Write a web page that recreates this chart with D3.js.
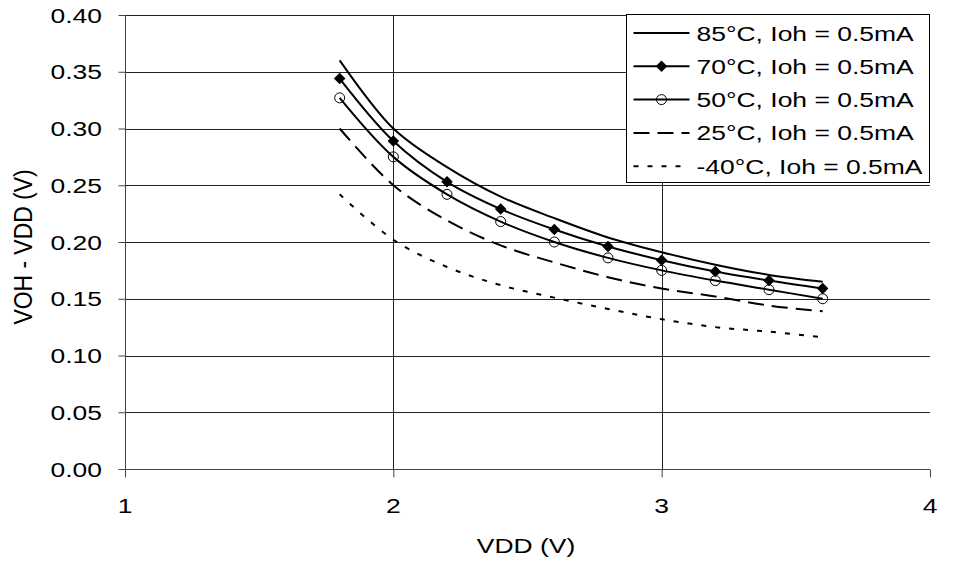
<!DOCTYPE html>
<html>
<head>
  <meta charset="UTF-8" />
  <script src="https://d3js.org/d3.v7.min.js"></script>
  <style>
    body { margin: 0; background: #fff; }
    svg { display: block; font-family: 'Liberation Sans', Arial, sans-serif; }
  </style>
</head>
<body>
  <svg id="chart" width="960" height="562"></svg>
  <script>
    // VDD sample points (V)
    const vdd = [1.8, 2.0, 2.2, 2.4, 2.6, 2.8, 3.0, 3.2, 3.4, 3.6];

    // VOH - VDD (V) per temperature, Ioh = 0.5mA
    const t85  = [0.360, 0.300, 0.266, 0.240, 0.221, 0.204, 0.191, 0.180, 0.171, 0.165];
    const t70  = [0.344, 0.289, 0.253, 0.229, 0.211, 0.196, 0.184, 0.174, 0.166, 0.159];
    const t50  = [0.327, 0.275, 0.242, 0.218, 0.200, 0.186, 0.175, 0.166, 0.158, 0.150];
    const t25  = [0.300, 0.250, 0.219, 0.197, 0.182, 0.169, 0.159, 0.152, 0.144, 0.139];
    const tm40 = [0.242, 0.202, 0.178, 0.162, 0.151, 0.141, 0.132, 0.125, 0.121, 0.116];

    const seriesNames = ["85°C, Ioh = 0.5mA", "70°C, Ioh = 0.5mA", "50°C, Ioh = 0.5mA",
                         "25°C, Ioh = 0.5mA", "-40°C, Ioh = 0.5mA"];
    const xTicks = [1, 2, 3, 4];
    const yTicks = [0, 0.05, 0.10, 0.15, 0.20, 0.25, 0.30, 0.35, 0.40];

    // style per series: dash pattern and marker type
    const styles = [
      { dash: null, marker: null },
      { dash: null, marker: "diamond" },
      { dash: null, marker: "circle" },
      { dash: "16,8", marker: null },
      { dash: "5,9", marker: null }
    ];
    const series = [t85, t70, t50, t25, tm40].map((vals, i) => ({
      name: seriesNames[i],
      points: vals.map((v, j) => ({ x: vdd[j], y: v })),
      ...styles[i]
    }));

    const svg = d3.select("#chart");
    const pl = 125, pr = 930, pt = 15, pb = 469;
    const FS = 21, SX = 1.26;   // the original picture is stretched sideways

    const x = d3.scaleLinear().domain([1, 4]).range([pl, pr]);
    const y = d3.scaleLinear().domain([0, 0.40]).range([pb, pt]);

    // text drawn with the sideways stretch
    function label(g, tx, ty, str, anchor, rot) {
      const tr = rot ? `translate(${tx},${ty}) rotate(-90) scale(1.09,1.2)`
                     : `translate(${tx},${ty}) scale(${SX},1)`;
      return g.append("text")
        .attr("transform", tr)
        .attr("text-anchor", anchor || "start")
        .attr("font-size", FS).attr("fill", "#000")
        .text(str);
    }

    // grid lines
    const grid = svg.append("g").attr("stroke", "#222").attr("stroke-width", 1);
    grid.selectAll("line.h").data(yTicks.filter(d => d > 0)).join("line")
      .attr("class", "h")
      .attr("x1", pl).attr("x2", pr)
      .attr("y1", d => Math.round(y(d)) + 0.5).attr("y2", d => Math.round(y(d)) + 0.5);
    grid.selectAll("line.v").data([2, 3]).join("line")
      .attr("class", "v")
      .attr("y1", pt).attr("y2", pb)
      .attr("x1", d => Math.round(x(d)) + 0.5).attr("x2", d => Math.round(x(d)) + 0.5);

    // axes (lines and ticks from d3, labels drawn stretched)
    const yAxis = svg.append("g")
      .attr("transform", `translate(${pl + 0.5},0)`)
      .call(d3.axisLeft(y).tickValues(yTicks).tickSize(7).tickFormat(""));
    const xAxis = svg.append("g")
      .attr("transform", `translate(0,${pb + 0.5})`)
      .call(d3.axisBottom(x).tickValues(xTicks).tickSize(8).tickFormat(""));
    [yAxis, xAxis].forEach(a => {
      a.select(".domain").attr("stroke", "#444");
      a.selectAll(".tick line").attr("stroke", "#444");
    });
    xAxis.select(".domain").attr("d", `M${pl},0H${pr}`);
    yAxis.select(".domain").attr("d", `M0,${pb}V${pt}`);

    const fmtY = d3.format(".2f");
    yTicks.forEach(d => label(svg, 102, y(d) + 7.5, fmtY(d), "end"));
    xTicks.forEach(d => label(svg, x(d), 513, String(d), "middle"));

    // axis titles
    label(svg, 526, 553, "VDD (V)", "middle");
    label(svg, 32, 247, "VOH - VDD (V)", "middle", true);

    // curves (smoothed like the spreadsheet original)
    const line = d3.line().x(d => x(d.x)).y(d => y(d.y)).curve(d3.curveCatmullRom.alpha(0.5));
    const plot = svg.append("g");
    series.forEach(s => {
      plot.append("path")
        .datum(s.points)
        .attr("fill", "none")
        .attr("stroke", "#000")
        .attr("stroke-width", 2)
        .attr("stroke-dasharray", s.dash)
        .attr("d", line);
    });

    const diamond = d3.symbol().type(d3.symbolDiamond2).size(85);
    function drawMarker(g, type, cx, cy) {
      if (type === "diamond") {
        g.append("path").attr("d", diamond())
          .attr("transform", `translate(${cx},${cy})`)
          .attr("fill", "#000");
      } else if (type === "circle") {
        g.append("circle").attr("cx", cx).attr("cy", cy).attr("r", 5)
          .attr("fill", "none").attr("stroke", "#000").attr("stroke-width", 1);
      }
    }
    series.filter(s => s.marker).forEach(s => {
      s.points.forEach(p => drawMarker(plot, s.marker, x(p.x), y(p.y)));
    });

    // legend
    const lg = svg.append("g").attr("transform", "translate(626.5,14.5)");
    lg.append("rect").attr("width", 303).attr("height", 168)
      .attr("fill", "#fff").attr("stroke", "#000").attr("stroke-width", 1);
    series.forEach((s, i) => {
      const cy = 18.5 + i * 33.3;
      lg.append("line").attr("x1", 7).attr("x2", 63).attr("y1", cy).attr("y2", cy)
        .attr("stroke", "#000").attr("stroke-width", 2).attr("stroke-dasharray", s.dash);
      drawMarker(lg, s.marker, 35, cy);
      label(lg, 70, cy + 7.5, s.name, "start");
    });
  </script>
</body>
</html>
